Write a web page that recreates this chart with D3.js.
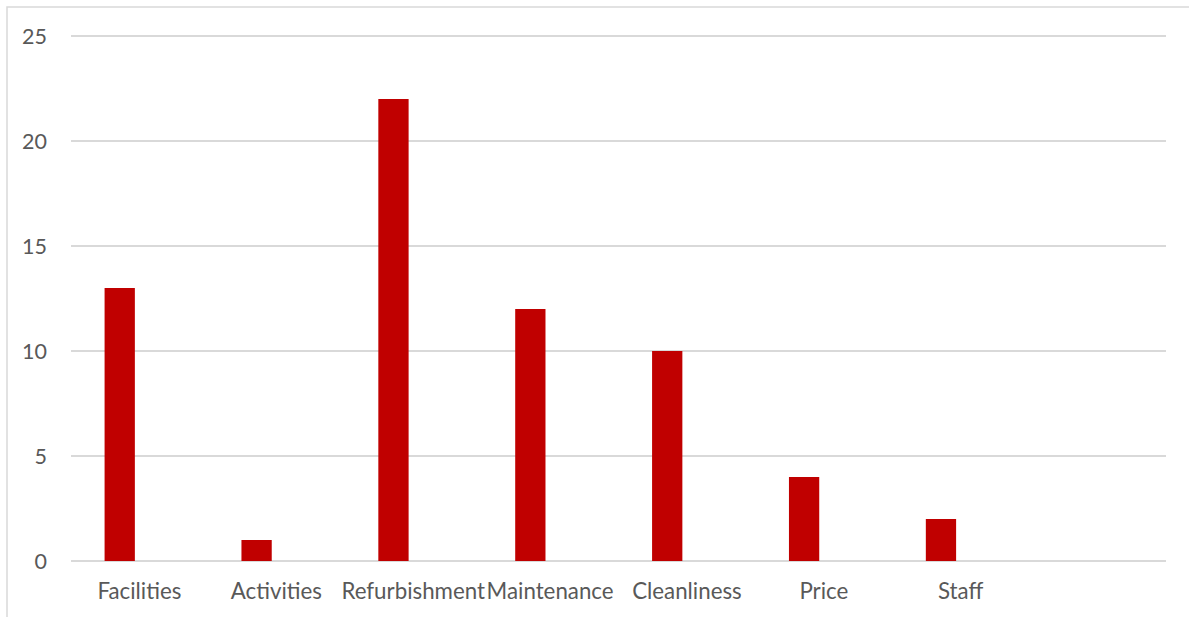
<!DOCTYPE html>
<html><head><meta charset="utf-8">
<script src="https://cdn.jsdelivr.net/npm/d3@7"></script>
<style>body{margin:0;background:#fff}svg{display:block}text{font-family:Lato,"Open Sans",sans-serif;fill:#595959}</style>
</head><body><svg id="c" width="1189" height="617"></svg>
<script>
const categories = ["Facilities","Activities","Refurbishment","Maintenance","Cleanliness","Price","Staff",""];
const values = [13,1,22,12,10,4,2,null];
const yTicks = [0,5,10,15,20,25];
const seriesNames = ["Count","Blank"];

const svg = d3.select("#c");
const W = 1189, H = 617;
const m = {left:71, right:23, top:36, bottom:56};
svg.append("rect").attr("x",7).attr("y",7).attr("width",W).attr("height",H)
  .attr("fill","#fff").attr("stroke","#D9D9D9").attr("stroke-width",1.5);

const x = d3.scaleBand().domain(categories).range([m.left, W-m.right]).padding(0);
const x1 = d3.scaleBand().domain(seriesNames).range([0, x.bandwidth()]).paddingInner(0).paddingOuter(1.26).align(0.44);
const y = d3.scaleLinear().domain([0,25]).range([H-m.bottom, m.top]);

const grid = svg.append("g");
grid.selectAll("line").data(yTicks).join("line")
  .attr("x1", m.left).attr("x2", W-m.right)
  .attr("y1", d=>y(d)).attr("y2", d=>y(d))
  .attr("stroke","#D9D9D9").attr("stroke-width",1.8);

const yAxis = d3.axisLeft(y).tickValues(yTicks).tickSize(0).tickPadding(0);
const ya = svg.append("g").attr("transform",`translate(47,0)`).call(yAxis);
ya.select(".domain").remove();
ya.selectAll("text").style("font-size","21.5px").attr("fill","#595959").attr("dy","0.35em");

const data = categories.map((c,i)=>({c, v: values[i]})).filter(d=>d.v!=null);
svg.append("g").selectAll("rect").data(data).join("rect")
  .attr("x", d=>x(d.c)+x1("Count"))
  .attr("width", x1.bandwidth())
  .attr("y", d=>y(d.v))
  .attr("height", d=>y(0)-y(d.v))
  .attr("fill","#C00000");

const xAxis = d3.axisBottom(x).tickSize(0).tickPadding(0);
const xa = svg.append("g").attr("transform",`translate(0,${y(0)})`).call(xAxis);
xa.select(".domain").remove();
xa.selectAll("text").style("font-size","22.3px").attr("fill","#595959").attr("dy",null).attr("y",38);
</script></body></html>
